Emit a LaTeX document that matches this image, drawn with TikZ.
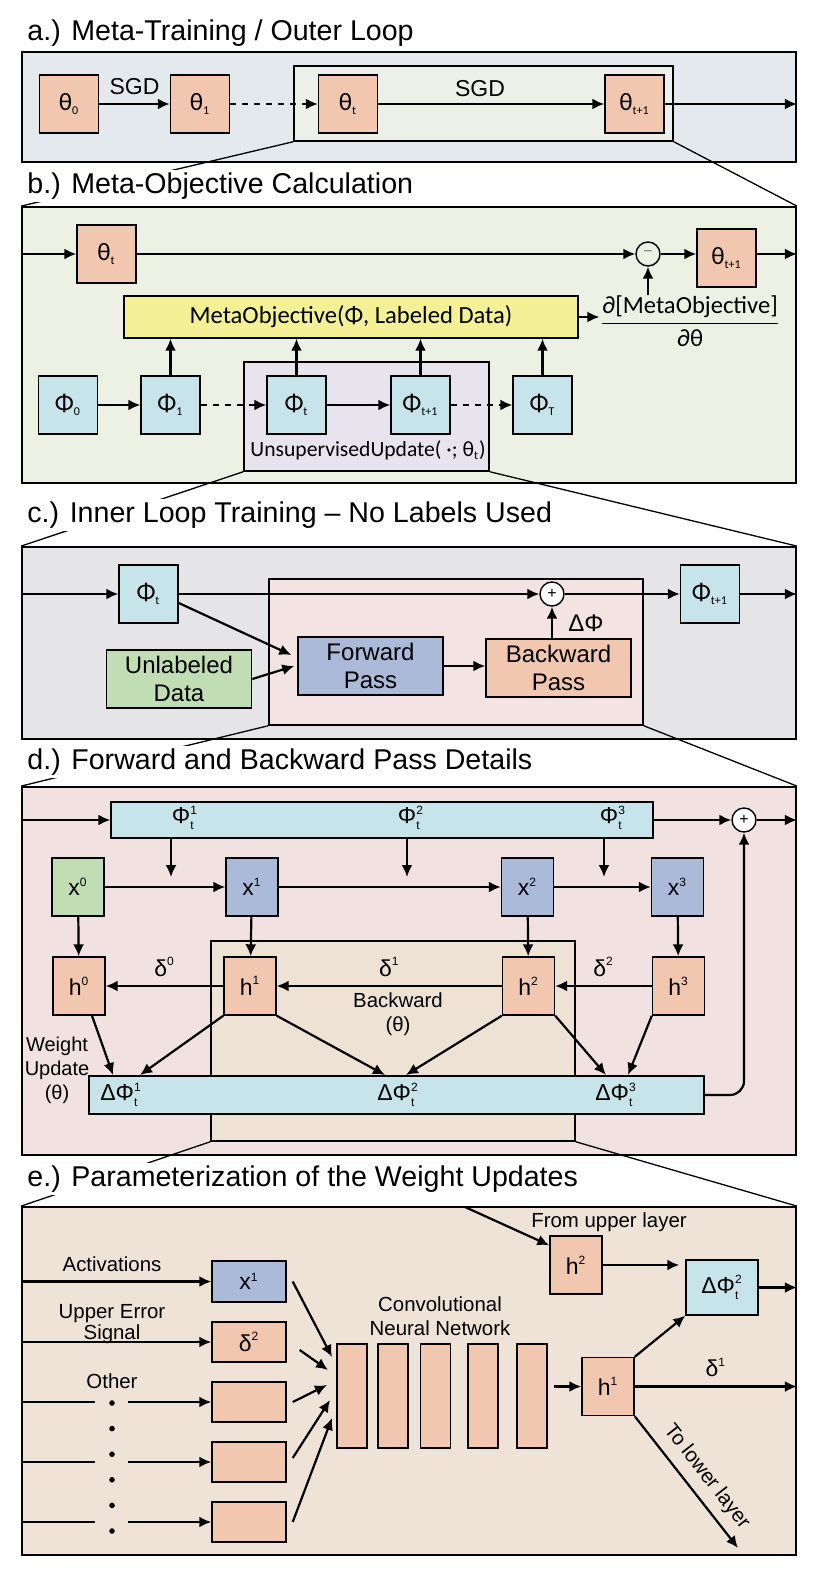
\documentclass[tikz,border=0pt]{standalone}
\usepackage{fontspec}
\setmainfont{Liberation Sans}
\newfontfamily\humfont{Carlito}
\usetikzlibrary{arrows.meta,positioning}

\definecolor{thor}{RGB}{241,199,176}
\definecolor{phicy}{RGB}{198,228,234}
\definecolor{xblue}{RGB}{170,186,216}
\definecolor{dgreen}{RGB}{192,221,180}
\definecolor{myell}{RGB}{244,240,150}
\definecolor{afill}{RGB}{228,233,237}
\definecolor{aifill}{RGB}{237,240,232}
\definecolor{bfill}{RGB}{237,241,228}
\definecolor{bifill}{RGB}{232,228,237}
\definecolor{cfill}{RGB}{229,229,232}
\definecolor{cifill}{RGB}{243,227,227}
\definecolor{dfill}{RGB}{242,225,225}
\definecolor{difill}{RGB}{238,226,213}
\definecolor{efill}{RGB}{238,227,214}

% labels with small indices
\newcommand{\lsb}[2]{\ensuremath{\mbox{#1}_{\mbox{\fontsize{6}{6}\selectfont #2}}}}
\newcommand{\lsp}[2]{\ensuremath{\mbox{#1}^{\mbox{\fontsize{6}{6}\selectfont #2}}}}
\newcommand{\lsbsp}[3]{\ensuremath{\mbox{#1}_{\mbox{\fontsize{6}{6}\selectfont #2}}^{\mbox{\fontsize{6}{6}\selectfont #3}}}}

\begin{document}
\begin{tikzpicture}[x=0.5pt, y=-0.5pt,
  arr/.style={-{Latex[length=6pt,width=5.5pt]}, line width=1.1pt},
  panel/.style={draw, line width=0.9pt, inner sep=0pt, minimum width=387pt},
  zoombox/.style={draw, line width=0.75pt, inner sep=0pt},
  zoomline/.style={line width=0.65pt},
  title/.style={anchor=west, fill=white, inner sep=1.5pt, font=\fontsize{14.3}{16}\selectfont},
  blk/.style={draw, line width=0.7pt, inner sep=0pt, minimum width=29.5pt, minimum height=29pt, font=\fontsize{11.5}{13}\selectfont},
  thbox/.style={blk, fill=thor, font=\humfont\fontsize{12.5}{14}\selectfont},
  phbox/.style={blk, fill=phicy, font=\humfont\fontsize{12.5}{14}\selectfont},
  dbox/.style={blk, minimum width=26pt},
  bigbox/.style={draw, line width=0.7pt, minimum width=72.5pt, minimum height=29pt, inner sep=0pt, align=center, font=\fontsize{12}{14}\selectfont},
  ebox/.style={draw, line width=0.7pt, minimum width=37pt, minimum height=20pt, inner sep=0pt, fill=thor, font=\fontsize{11.5}{13}\selectfont},
  bar/.style={draw, line width=0.7pt, minimum width=15pt, minimum height=52pt, inner sep=0pt, fill=thor},
  opsign/.style={circle, draw, line width=0.7pt, minimum size=12pt, inner sep=0pt, fill=white, font=\fontsize{8}{8}\selectfont},
  small/.style={font=\fontsize{10.2}{12}\selectfont, align=center},
  lbl/.style={font=\fontsize{11.5}{13}\selectfont}]
\useasboundingbox (0,0) rectangle (832,1582);

% panels and zoomed parts
\node[panel, fill=afill, minimum height=55pt] (pa) at (409,107) {};
\node[zoombox, fill=aifill, minimum width=189.5pt, minimum height=37.5pt] (pai) at (483.5,103.5) {};
\node[panel, fill=bfill, minimum height=138pt] (pb) at (409,345) {};
\node[zoombox, fill=bifill, minimum width=122.5pt, minimum height=54.5pt] (pbi) at (366.5,416.5) {};
\node[panel, fill=cfill, minimum height=96pt] (pc) at (409,643) {};
\node[zoombox, fill=cifill, minimum width=187pt, minimum height=73pt] (pci) at (456,652) {};
\node[panel, fill=dfill, minimum height=184pt] (pd) at (409,971) {};
\node[zoombox, fill=difill, minimum width=182pt, minimum height=100pt] (pdi) at (393,1041) {};
\node[panel, fill=efill, minimum height=174pt] (pe) at (409,1381) {};

\draw[zoomline] (pai.south west) -- (pb.north west) (pai.south east) -- (pb.north east);
\draw[zoomline] (pbi.south west) -- (pc.north west) (pbi.south east) -- (pc.north east);
\draw[zoomline] (pci.south west) -- (pd.north west) (pci.south east) -- (pd.north east);
\draw[zoomline] (pdi.south west) -- (pe.north west) (pdi.south east) -- (pe.north east);

\node[title] (ta) at (24,33) {a.) Meta-Training / Outer Loop};
\node[title] (tb) at (24,186) {b.) Meta-Objective Calculation};
\node[title] (tc) at (24,515) {c.) Inner Loop Training -- No Labels Used};
\node[title] (td) at (24,762) {d.) Forward and Backward Pass Details};
\node[title] (te) at (24,1179) {e.) Parameterization of the Weight Updates};

% a.) outer loop
\node[thbox] (a0) at (69,104) {\lsb{θ}{0}};
\node[thbox] (a1) at (200,104) {\lsb{θ}{1}};
\node[thbox] (at) at (348,104) {\lsb{θ}{t}};
\node[thbox] (atn) at (634.5,104) {\lsb{θ}{t+1}};
\draw[arr] (a0) -- node[above=1pt, lbl] {SGD} (a1);
\draw[arr, dashed] (a1) -- (at);
\draw[arr] (at) -- node[above=0pt, lbl, pos=0.45] {SGD} (atn);
\draw[arr] (atn) -- (atn -| pa.east);

% b.) meta-objective
\node[thbox] (bth) at (106.5,254) {\lsb{θ}{t}};
\node[opsign, fill=bfill] (bmin) at (648,254) {\color{gray}−};
\node[thbox] (bthn) at (726.5,258) {\lsb{θ}{t+1}};
\draw[arr] (pb.west |- bth) -- (bth);
\draw[arr] (bth) -- (bmin);
\draw[arr] (bmin) -- (bmin -| bthn.west);
\draw[arr] (bthn.east |- bmin) -- (bmin -| pb.east);
\node[draw, line width=0.7pt, fill=myell, minimum width=227pt, minimum height=21pt, inner sep=0pt,
  font=\humfont\fontsize{12.3}{14}\selectfont] (bobj) at (351,317) {MetaObjective(Φ, Labeled Data)};
\node[inner sep=0pt, font=\humfont\fontsize{12.3}{14}\selectfont] (bgrad) at (690,321)
  {$\displaystyle\frac{\mbox{∂[MetaObjective]}}{\mbox{∂θ}}$};
\draw[arr] (bobj.east) -- (bobj.east -| bgrad.west);
\draw[arr] (bmin |- bgrad.north) -- (bmin);
\node[phbox] (bp0) at (68,405) {\lsb{Φ}{0}};
\node[phbox] (bp1) at (170.5,405) {\lsb{Φ}{1}};
\node[phbox] (bpt) at (296.5,405) {\lsb{Φ}{t}};
\node[phbox] (bptn) at (420.5,405) {\lsb{Φ}{t+1}};
\node[phbox] (bpT) at (542.5,405) {\lsb{Φ}{T}};
\draw[arr] (bp0) -- (bp1);
\draw[arr, dashed] (bp1) -- (bpt);
\draw[arr] (bpt) -- (bptn);
\draw[arr, dashed] (bptn) -- (bpT);
\foreach \n in {bp1,bpt,bptn,bpT}
  \draw[arr] (\n.north) -- (\n.north |- bobj.south);
\node[font=\humfont\fontsize{10.8}{12}\selectfont] (bupd) at (368,450) {UnsupervisedUpdate( ·; \lsb{θ}{t})};

% c.) inner loop
\node[phbox] (cpt) at (148.5,594) {\lsb{Φ}{t}};
\node[opsign] (cplus) at (552,594) {+};
\node[phbox] (cptn) at (710,594) {\lsb{Φ}{t+1}};
\draw[arr] (pc.west |- cpt) -- (cpt);
\draw[arr] (cpt) -- (cplus);
\draw[arr] (cplus) -- (cptn);
\draw[arr] (cptn) -- (cptn -| pc.east);
\node[bigbox, fill=dgreen] (cdat) at (179,679) {Unlabeled\\Data};
\node[bigbox, fill=xblue] (cfwd) at (370.5,666) {Forward\\Pass};
\node[bigbox, fill=thor] (cbwd) at (558.5,668) {Backward\\Pass};
\draw[arr] ([yshift=-4.5pt]cpt.east) -- ([xshift=-3pt,yshift=5.5pt]cfwd.west);
\draw[arr] (cdat.east) -- ([xshift=-1.5pt]cfwd.west);
\draw[arr] (cfwd.east) -- (cfwd.east -| cbwd.west);
\draw[arr] (cbwd.north -| cplus) -- (cplus);
\node[font=\fontsize{12}{14}\selectfont] (cdl) at (586,623) {ΔΦ};

% d.) forward and backward pass
\node[draw, line width=0.7pt, fill=phicy, minimum width=271pt, minimum height=18pt, inner sep=0pt] (dphi) at (382,820) {};
\node[lbl] (dl1) at (185,818) {\lsbsp{Φ}{t}{1}};
\node[lbl] (dl2) at (411,818) {\lsbsp{Φ}{t}{2}};
\node[lbl] (dl3) at (613,818) {\lsbsp{Φ}{t}{3}};
\node[opsign] (dplus) at (744,820) {+};
\draw[arr] (pd.west |- dphi) -- (dphi);
\draw[arr] (dphi) -- (dplus);
\draw[arr] (dplus) -- (dplus -| pd.east);
\coordinate (dd1) at (171,877);
\coordinate (dd2) at (407,877);
\coordinate (dd3) at (604,877);
\foreach \c in {dd1,dd2,dd3}
  \draw[arr] (dphi.south -| \c) -- (\c);
\node[dbox, fill=dgreen] (dx0) at (78,887) {\lsp{x}{0}};
\node[dbox, fill=xblue] (dx1) at (252,887) {\lsp{x}{1}};
\node[dbox, fill=xblue] (dx2) at (527.5,887) {\lsp{x}{2}};
\node[dbox, fill=xblue] (dx3) at (677.5,887) {\lsp{x}{3}};
\draw[arr] (dx0) -- (dx1);
\draw[arr] (dx1) -- (dx2);
\draw[arr] (dx2) -- (dx3);
\node[dbox, fill=thor] (dh0) at (79,986) {\lsp{h}{0}};
\node[dbox, fill=thor] (dh1) at (250,986) {\lsp{h}{1}};
\node[dbox, fill=thor] (dh2) at (528.5,986) {\lsp{h}{2}};
\node[dbox, fill=thor] (dh3) at (678.5,986) {\lsp{h}{3}};
\foreach \i in {0,1,2,3}
  \draw[arr] (dx\i) -- (dh\i);
\draw[arr] (dh3) -- node[above=1pt, lbl] {\lsp{δ}{2}} (dh2);
\draw[arr] (dh2) -- node[above=1pt, lbl] {\lsp{δ}{1}} (dh1);
\draw[arr] (dh1) -- node[above=1pt, lbl] {\lsp{δ}{0}} (dh0);
\node[small] (dbk) at (398,1014) {Backward\\(θ)};
\node[draw, line width=0.7pt, fill=phicy, minimum width=307.5pt, minimum height=19pt, inner sep=0pt] (ddphi) at (396.5,1095) {};
\node[lbl] (ddl1) at (121,1095) {Δ\lsbsp{Φ}{t}{1}};
\node[lbl] (ddl2) at (398,1095) {Δ\lsbsp{Φ}{t}{2}};
\node[lbl] (ddl3) at (616,1095) {Δ\lsbsp{Φ}{t}{3}};
\node[small, font=\fontsize{10}{12}\selectfont] (dwu) at (57,1070) {Weight\\Update\\(θ)};
\coordinate (du1) at (113,1075);
\coordinate (du2) at (140,1075);
\coordinate (du3) at (385,1075);
\coordinate (du4) at (406,1075);
\coordinate (du5) at (606,1075);
\coordinate (du6) at (628,1075);
\draw[arr] ([xshift=6.5pt]dh0.south) -- (du1);
\draw[arr] (dh1.south west) -- (du2);
\draw[arr] (dh1.south east) -- (du3);
\draw[arr] (dh2.south west) -- (du4);
\draw[arr] (dh2.south east) -- (du5);
\draw[arr] (dh3.south west) -- (du6);
\draw[arr, rounded corners=7pt] (ddphi.east) -| (dplus.south);

% e.) weight update network
\node[ebox, fill=xblue, minimum height=20.5pt] (e1) at (249,1281.5) {\lsp{x}{1}};
\node[ebox] (e2) at (249,1342) {\lsp{δ}{2}};
\node[ebox] (e3) at (249,1402) {};
\node[ebox] (e4) at (249,1462) {};
\node[ebox] (e5) at (249,1522) {};
\node[small] (eact) at (112,1264) {Activations};
\node[small, font=\fontsize{10.2}{9.5}\selectfont] (eerr) at (112,1324) {Upper Error\\Signal};
\node[small] (eoth) at (112,1381) {Other};
\draw[arr] (pe.west |- e1) -- (e1);
\draw[arr] (pe.west |- e2) -- (e2);
\coordinate (egl) at (95,0);
\coordinate (egr) at (128,0);
\foreach \n in {e3,e4,e5} {
  \draw[line width=1.1pt] (pe.west |- \n) -- (egl |- \n);
  \draw[arr] (egr |- \n) -- (\n);
}
\foreach \k in {0,...,5}
  \fill (112,{1403+25.6*\k}) circle (1.4pt);
\node[bar] (cn1) at (352,1396) {};
\node[bar] (cn2) at (393,1396) {};
\node[bar] (cn3) at (435.5,1396) {};
\node[bar] (cn4) at (483,1396) {};
\node[bar] (cn5) at (532,1396) {};
\node[small, font=\fontsize{10.2}{12}\selectfont] (ecnn) at (440,1316) {Convolutional\\Neural Network};
\coordinate (ci1) at (332,1357);
\coordinate (ci2) at (328,1370);
\coordinate (ci3) at (327,1385);
\coordinate (ci4) at (330,1400);
\coordinate (ci5) at (332,1418);
\draw[arr] ([xshift=3pt]e1.east) -- (ci1);
\draw[arr] ([xshift=6.5pt,yshift=-4pt]e2.east) -- (ci2);
\draw[arr] ([xshift=3pt]e3.east) -- (ci3);
\draw[arr] ([xshift=3pt,yshift=2pt]e4.east) -- (ci4);
\draw[arr] ([xshift=3pt]e5.east) -- (ci5);
\node[dbox, fill=thor] (eh1) at (608,1386.5) {\lsp{h}{1}};
\node[dbox, fill=thor] (eh2) at (576,1265) {\lsp{h}{2}};
\node[draw, line width=0.7pt, fill=phicy, minimum width=36pt, minimum height=27.5pt, inner sep=0pt,
  font=\fontsize{11.5}{13}\selectfont] (edphi) at (722,1287.5) {Δ\lsbsp{Φ}{t}{2}};
\draw[arr] ([xshift=3pt]cn5.east |- eh1) -- (eh1);
\coordinate (eup) at (465,1207);
\node[small] (efrom) at (609,1222) {From upper layer};
\draw[arr] (eup) -- ([yshift=-5pt]eh2.north west);
\draw[arr] (eh2.east) -- ([xshift=-3pt]eh2.east -| edphi.west);
\draw[arr] (edphi) -- (edphi -| pe.east);
\draw[arr] (eh1.north east) -- (edphi.south west);
\draw[arr] (eh1) -- node[above=1pt, lbl] {\lsp{δ}{1}} (eh1 -| pe.east);
\coordinate (elow) at (738,1548);
\draw[arr] (eh1.south east) -- node[sloped, above=1pt, pos=0.55, font=\fontsize{10.2}{12}\selectfont] {To lower layer} (elow);
\end{tikzpicture}
\end{document}
